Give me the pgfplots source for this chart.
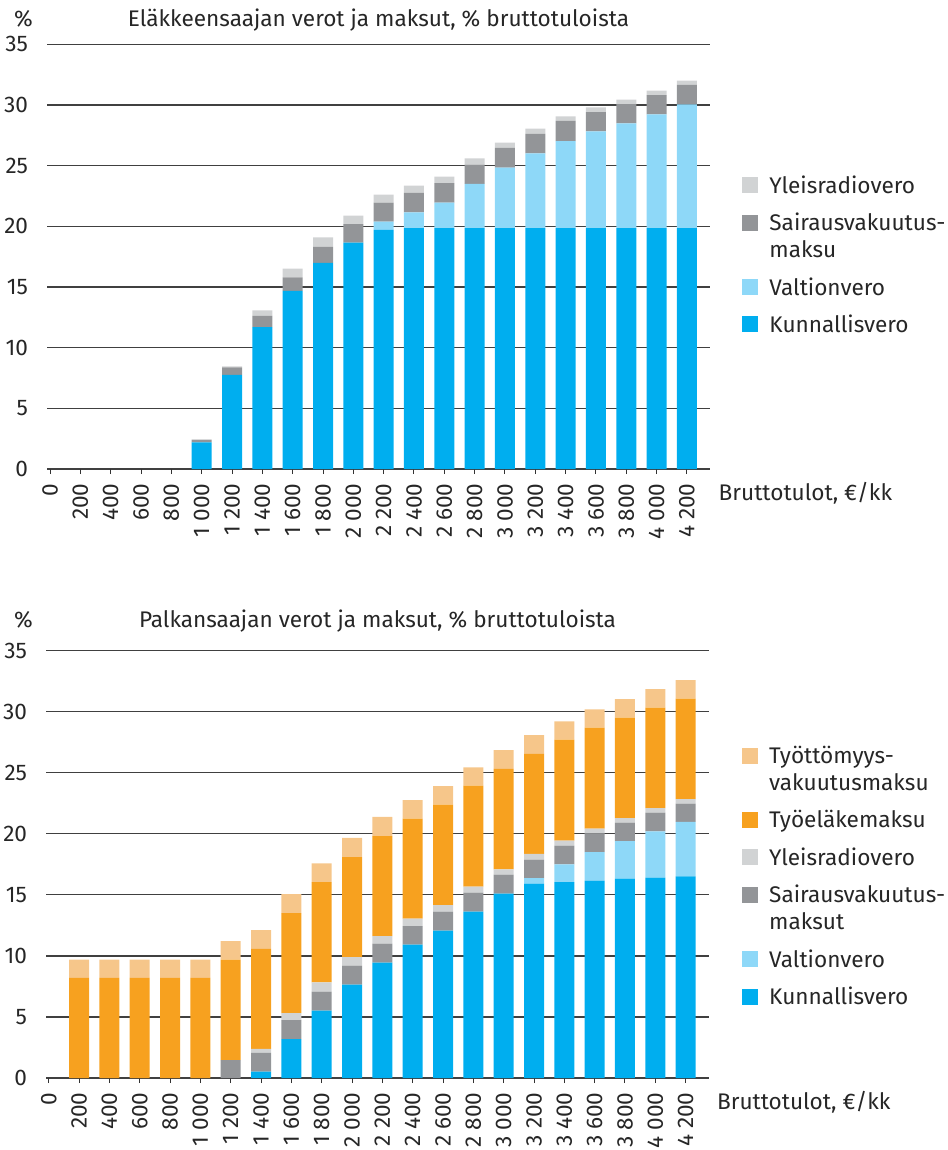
\documentclass[border=0pt]{standalone}
\usepackage{fontspec}
\setmainfont{Fira Sans}
\usepackage{pgfplots}
\usepackage{pgfplotstable}
\pgfplotsset{compat=1.18}

\definecolor{kunta}{HTML}{00AEEF}
\definecolor{valtio}{HTML}{8ED8F8}
\definecolor{sairaus}{HTML}{939598}
\definecolor{yle}{HTML}{D1D3D4}
\definecolor{tyel}{HTML}{F7A11F}
\definecolor{tvm}{HTML}{F6C68A}

\newcommand\ls{\rule[-3bp]{0pt}{11bp}}
\newcommand\two[2]{\vtop{\hbox{\ls #1}\hbox{\ls #2}}}

% pension recipient: kunnallisvero, valtionvero, sairausvakuutusmaksu, yleisradiovero
\pgfplotstableread{
x K V S Y
0 0 0 0 0
1 0 0 0 0
2 0 0 0 0
3 0 0 0 0
4 0 0 0 0
5 2.20 0 0.22 0
6 7.75 0 0.63 0.08
7 11.70 0 0.91 0.47
8 14.67 0 1.13 0.71
9 16.98 0 1.32 0.79
10 18.65 0 1.54 0.69
11 19.70 0.68 1.57 0.66
12 19.86 1.29 1.60 0.60
13 19.86 2.09 1.62 0.52
14 19.86 3.63 1.59 0.52
15 19.86 4.98 1.62 0.44
16 19.86 6.16 1.59 0.44
17 19.86 7.17 1.65 0.39
18 19.86 7.97 1.59 0.39
19 19.86 8.63 1.59 0.36
20 19.86 9.37 1.59 0.36
21 19.86 10.19 1.60 0.36
}\elake

% wage earner: + tyoelakemaksu, tyottomyysvakuutusmaksu
\pgfplotstableread{
x K V S Y O T
0 0 0 0 0 0 0
1 0 0 0 0 8.20 1.50
2 0 0 0 0 8.20 1.50
3 0 0 0 0 8.20 1.50
4 0 0 0 0 8.20 1.50
5 0 0 0 0 8.20 1.50
6 0 0 1.47 0 8.22 1.53
7 0.52 0 1.53 0.33 8.19 1.55
8 3.19 0 1.56 0.57 8.19 1.56
9 5.51 0 1.56 0.77 8.21 1.53
10 7.64 0 1.56 0.71 8.19 1.56
11 9.45 0 1.55 0.63 8.19 1.56
12 10.92 0 1.53 0.60 8.19 1.53
13 12.07 0 1.55 0.55 8.22 1.52
14 13.62 0 1.56 0.49 8.27 1.50
15 15.10 0 1.55 0.44 8.24 1.53
16 15.92 0.46 1.50 0.47 8.21 1.53
17 16.05 1.45 1.53 0.41 8.27 1.50
18 16.16 2.35 1.53 0.38 8.27 1.50
19 16.33 3.08 1.50 0.38 8.22 1.53
20 16.41 3.79 1.53 0.38 8.22 1.53
21 16.52 4.45 1.50 0.38 8.22 1.53
}\palkka

\pgfplotsset{
  sq/.style={draw=none, legend image code/.code={\fill[##1] (0bp,0bp) rectangle (8bp,8bp);}},
  verot/.style={
    ybar stacked, bar width=10bp, anchor=south west,
    scale only axis, width=331.5bp,
    ymin=0, ymax=35, ytick={0,5,...,35},
    ymajorgrids, major grid style={black!75, line width=0.6bp},
    axis line style={draw=none},
    xtick={0,...,21},
    xticklabels={0,200,400,600,800,1~000,1~200,1~400,1~600,1~800,2~000,2~200,2~400,2~600,2~800,3~000,3~200,3~400,3~600,3~800,4~000,4~200},
    xtick pos=bottom, tick align=outside, major tick length=2.5bp,
    xtick style={black!80, line width=0.5bp}, ytick style={draw=none},
    /pgf/number format/assume math mode=true,
    xticklabel style={rotate=90, anchor=east, inner sep=0pt, xshift=-4.5bp},
    yticklabel style={xshift=-3bp},
    xlabel={Bruttotulot, €/kk}, ylabel={\%},
    reverse legend,
    legend style={draw=none, fill=none, inner sep=0pt, row sep=6.9bp, column sep=5.65bp,
      cells={anchor=base west}, nodes={inner sep=0pt, text depth=}},
  }
}

\begin{document}
\fontsize{11.3bp}{13.5bp}\selectfont\color{black!85}
\begin{tikzpicture}
\path[use as bounding box] (0,0) rectangle (474bp,-575bp);

\begin{axis}[verot, at={(23.5bp,-234.5bp)}, height=212.35bp, xmin=-0.1, xmax=21.76,
  title={Eläkkeensaajan verot ja maksut, \% bruttotuloista},
  every axis title/.style={at={(axis description cs:0.5,1)}, anchor=base, yshift=9.15bp},
  every axis y label/.style={at={(axis description cs:0,1)}, anchor=base, xshift=-11.75bp, yshift=9.15bp},
  every axis x label/.style={at={(axis description cs:1,0)}, anchor=base west, inner sep=0pt, xshift=4.15bp, yshift=-15.5bp},
  legend style={at={(axis description cs:1.0478,0.692)}, anchor=north west}]
\addplot[fill=kunta, sq] table[x=x, y=K] {\elake};
\addlegendentry{\ls Kunnallisvero}
\addplot[fill=valtio, sq] table[x=x, y=V] {\elake};
\addlegendentry{\ls Valtionvero}
\addplot[fill=sairaus, sq] table[x=x, y=S] {\elake};
\addlegendentry{\two{Sairausvakuutus-}{maksu}}
\addplot[fill=yle, sq] table[x=x, y=Y] {\elake};
\addlegendentry{\ls Yleisradiovero}
\end{axis}

\begin{axis}[verot, at={(23bp,-539bp)}, height=213.65bp, xmin=-0.09, xmax=21.77,
  title={Palkansaajan verot ja maksut, \% bruttotuloista},
  every axis title/.style={at={(axis description cs:0.5,1)}, anchor=base, yshift=11.7bp},
  every axis y label/.style={at={(axis description cs:0,1)}, anchor=base, xshift=-11.25bp, yshift=11.7bp},
  every axis x label/.style={at={(axis description cs:1,0)}, anchor=base west, inner sep=0pt, xshift=3.85bp, yshift=-15.65bp},
  legend style={at={(axis description cs:1.049,0.777)}, anchor=north west}]
\addplot[fill=kunta, sq] table[x=x, y=K] {\palkka};
\addlegendentry{\ls Kunnallisvero}
\addplot[fill=valtio, sq] table[x=x, y=V] {\palkka};
\addlegendentry{\ls Valtionvero}
\addplot[fill=sairaus, sq] table[x=x, y=S] {\palkka};
\addlegendentry{\two{Sairausvakuutus-}{maksut}}
\addplot[fill=yle, sq] table[x=x, y=Y] {\palkka};
\addlegendentry{\ls Yleisradiovero}
\addplot[fill=tyel, sq] table[x=x, y=O] {\palkka};
\addlegendentry{\ls Työeläkemaksu}
\addplot[fill=tvm, sq] table[x=x, y=T] {\palkka};
\addlegendentry{\two{Työttömyys-}{vakuutusmaksu}}
\end{axis}
\end{tikzpicture}
\end{document}
